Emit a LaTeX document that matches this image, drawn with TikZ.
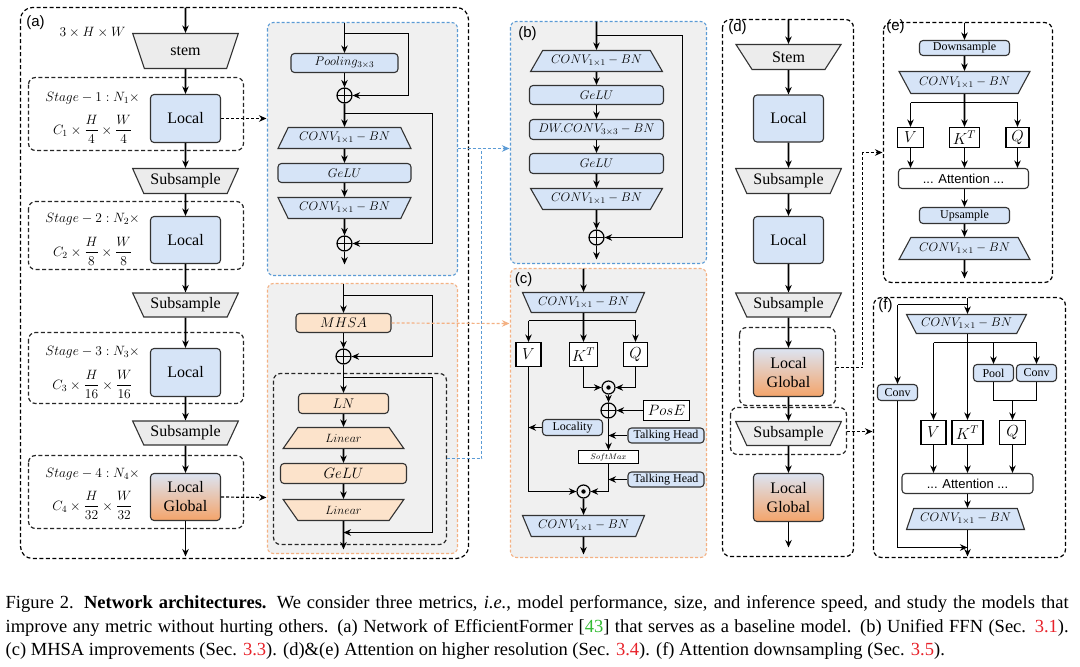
\documentclass[tikz,border=0pt]{standalone}
\usepackage{fix-cm}
\usepackage{amsmath}
\usepackage[no-math]{fontspec}
\setmainfont{Liberation Serif}
\setsansfont{Liberation Sans}
\usetikzlibrary{arrows.meta,shapes.geometric,calc}
\definecolor{lblue}{HTML}{D6E4F7}
\definecolor{lorange}{HTML}{FCE3CB}
\definecolor{lgray}{HTML}{ECECEC}
\definecolor{pgray}{HTML}{F0F0F0}
\definecolor{bd}{HTML}{333333}
\definecolor{dblue}{HTML}{5B9BD5}
\definecolor{dorange}{HTML}{F4B183}
\definecolor{lgtop}{HTML}{DCE4F2}
\definecolor{lgbot}{HTML}{F4A46A}
\definecolor{refred}{HTML}{E8222A}
\definecolor{citegreen}{HTML}{33BB33}
\tikzset{
  dframe/.style={draw=black, dash pattern=on 4pt off 2.5pt, line width=1.2pt, rounded corners=12pt},
  dbox/.style={draw=black!85, dash pattern=on 4pt off 2.5pt, line width=1.2pt, rounded corners=7pt},
  bpanel/.style={draw=dblue, fill=pgray, dash pattern=on 3pt off 2pt, line width=1.1pt, rounded corners=6pt},
  opanel/.style={draw=dorange, fill=pgray, dash pattern=on 3pt off 2pt, line width=1.1pt, rounded corners=6pt},
  box/.style={draw=bd, line width=1.1pt, rounded corners=3.5pt, inner sep=0pt},
  bbox/.style={box, fill=lblue},
  obox/.style={box, fill=lorange},
  wbox/.style={draw=black, line width=1.1pt, fill=white, inner sep=0pt},
  lgbox/.style={box, top color=lgtop, bottom color=lgbot, align=center},
  trap/.style={trapezium, trapezium stretches=true, draw=bd, line width=1.1pt, inner sep=0pt},
  wtop/.style={shape border rotate=180},
  fbig/.style={font=\fontsize{16}{19}\selectfont},
  fmid/.style={font=\fontsize{12.5}{14}\selectfont},
  fsm/.style={font=\fontsize{12}{14}\selectfont},
  fvk/.style={font=\fontsize{16}{18}\selectfont},
  plab/.style={font=\sffamily\fontsize{15}{17}\selectfont, inner sep=0pt},
  stg/.style={font=\fontsize{13.5}{16}\selectfont, inner sep=0pt},
  arr/.style={-{Stealth[length=7.5pt,width=6.5pt]}, line width=1.6pt},
  ln/.style={line width=1.6pt},
  dasharr/.style={-{Stealth[length=7.5pt,width=6.5pt]}, dash pattern=on 3pt off 2pt, line width=1.2pt},
  oplus/.style={circle, draw, line width=1.2pt, minimum size=15pt, inner sep=0pt,
    path picture={\draw[line width=1.2pt] (path picture bounding box.north) -- (path picture bounding box.south)
      (path picture bounding box.west) -- (path picture bounding box.east);}},
  odot/.style={circle, draw, line width=1.2pt, minimum size=13pt, inner sep=0pt,
    path picture={\fill (path picture bounding box.center) circle (2.2pt);}},
  capf/.style={font=\fontsize{18.5}{21}\selectfont, inner sep=0pt, anchor=base west},
}
\begin{document}
\begin{tikzpicture}[x=1pt,y=-1pt]
\useasboundingbox (0,0) rectangle (1080,667);
\fill[white] (0,0) rectangle (1080,667);
\begin{scope}[shift={(0.5,0.5)}]

% ================= panel (a) =================
\draw[dframe] (20,7) rectangle (468,558);
\node[plab] (la) at (35,22) {(a)};
\node[stg] (ain0) at (92,32) {$3\times H\times W$};
\draw[dbox] (28,77) rectangle (243,150);
\draw[dbox] (28,201) rectangle (243,269);
\draw[dbox] (28,332) rectangle (243,403);
\draw[dbox] (28,455) rectangle (243,528);
\node[trap, wtop, fill=lgray, trapezium angle=65, minimum width=106pt, minimum height=35pt, fbig] (stem) at (185,50.5) {stem};
\node[bbox, minimum width=70pt, minimum height=48pt, fbig] (l1) at (185,118) {Local};
\node[trap, wtop, fill=lgray, trapezium angle=57, minimum width=106pt, minimum height=25pt, fbig] (sa1) at (185,180.5) {Subsample};
\node[bbox, minimum width=70pt, minimum height=47pt, fbig] (l2) at (185,239.5) {Local};
\node[trap, wtop, fill=lgray, trapezium angle=57, minimum width=106pt, minimum height=24pt, fbig] (sa2) at (185,304.5) {Subsample};
\node[bbox, minimum width=70pt, minimum height=48pt, fbig] (l3) at (185,372) {Local};
\node[trap, wtop, fill=lgray, trapezium angle=57, minimum width=106pt, minimum height=24pt, fbig] (sa3) at (185,432.5) {Subsample};
\node[lgbox, minimum width=70pt, minimum height=47pt, fbig] (l4) at (185,496.5) {Local\\Global};
\node[stg] (s1a) at (92,98) {$Stage-1:N_1\times$};
\node[stg] (s1b) at (92,129) {$C_1\times\dfrac{H}{4}\times\dfrac{W}{4}$};
\node[stg] (s2a) at (92,219) {$Stage-2:N_2\times$};
\node[stg] (s2b) at (92,251) {$C_2\times\dfrac{H}{8}\times\dfrac{W}{8}$};
\node[stg] (s3a) at (92,352) {$Stage-3:N_3\times$};
\node[stg] (s3b) at (92,384) {$C_3\times\dfrac{H}{16}\times\dfrac{W}{16}$};
\node[stg] (s4a) at (92,474) {$Stage-4:N_4\times$};
\node[stg] (s4b) at (92,505) {$C_4\times\dfrac{H}{32}\times\dfrac{W}{32}$};
\coordinate (ain) at (185,7);
\coordinate (aout) at (185,556);
\draw[arr] (ain) -- (stem.north);
\draw[arr] (stem.south) -- (l1.north);
\draw[arr] (l1.south) -- (sa1.north);
\draw[arr] (sa1.south) -- (l2.north);
\draw[arr] (l2.south) -- (sa2.north);
\draw[arr] (sa2.south) -- (l3.north);
\draw[arr] (l3.south) -- (sa3.north);
\draw[arr] (sa3.south) -- (l4.north);
\draw[arr] (l4.south) -- (aout);

% ================= blue panel (FFN) =================
\draw[bpanel] (267,22) rectangle (457,275);
\node[bbox, minimum width=107pt, minimum height=19pt, fmid] (pool) at (344,62.5) {$Pooling_{3\times3}$};
\node[oplus] (op1) at (344,95) {};
\node[trap, fill=lblue, trapezium angle=54, minimum width=133pt, minimum height=21pt, fmid] (ca1) at (344,137.5) {$CONV_{1\times1}-BN$};
\node[bbox, minimum width=133pt, minimum height=19pt, fmid] (ga) at (344,172.5) {$GeLU$};
\node[trap, wtop, fill=lblue, trapezium angle=54, minimum width=133pt, minimum height=21pt, fmid] (ca2) at (344,207.5) {$CONV_{1\times1}-BN$};
\node[oplus] (op2) at (344,243) {};
\coordinate (bin) at (344,22);
\coordinate (bs1) at (344,33);
\coordinate (bs1r) at (408,33);
\coordinate (bs2) at (344,113);
\coordinate (bs2r) at (432,113);
\coordinate (bout) at (344,264);
\draw[arr] (bin) -- (pool.north);
\draw[arr] (bs1) -- (bs1r) |- (op1.east);
\draw[arr] (pool.south) -- (op1.north);
\draw[arr] (op1.south) -- (ca1.north);
\draw[arr] (bs2) -- (bs2r) |- (op2.east);
\draw[arr] (ca1.south) -- (ga.north);
\draw[arr] (ga.south) -- (ca2.north);
\draw[arr] (ca2.south) -- (op2.north);
\draw[arr] (op2.south) -- (bout);

% ================= orange panel (MHSA block) =================
\draw[opanel] (267,283) rectangle (457,553);
\draw[dbox] (273,373) rectangle (446,544);
\node[obox, minimum width=95pt, minimum height=19pt, font=\fontsize{14}{16}\selectfont] (mh) at (343,322.5) {$MHSA$};
\node[oplus] (op3) at (343,356) {};
\node[obox, minimum width=90pt, minimum height=20pt, font=\fontsize{14}{16}\selectfont] (lnb) at (343,403) {$LN$};
\node[trap, fill=lorange, trapezium angle=54.5, minimum width=121pt, minimum height=21pt, fsm] (lin1) at (343,437.5) {$Linear$};
\node[obox, minimum width=126pt, minimum height=20pt, font=\fontsize{15}{17}\selectfont] (go) at (343,473) {$GeLU$};
\node[trap, wtop, fill=lorange, trapezium angle=54.5, minimum width=121pt, minimum height=21pt, fsm] (lin2) at (343,509.5) {$Linear$};
\coordinate (oin) at (343,283);
\coordinate (os1) at (343,295);
\coordinate (os1r) at (432,295);
\coordinate (os2) at (343,377);
\coordinate (os2r) at (432,377);
\coordinate (os2e) at (343,532);
\coordinate (oout) at (343,549);
\draw[arr] (oin) -- (mh.north);
\draw[arr] (os1) -- (os1r) |- (op3.east);
\draw[arr] (mh.south) -- (op3.north);
\draw[arr] (op3.south) -- (lnb.north);
\draw[arr] (os2) -- (os2r) |- (os2e);
\draw[arr] (lnb.south) -- (lin1.north);
\draw[arr] (lin1.south) -- (go.north);
\draw[arr] (go.south) -- (lin2.north);
\draw[arr] (lin2.south) -- (oout);

% dashed links from (a)
\coordinate (l1t) at (266,118);
\coordinate (l4t) at (266,497);
\draw[dasharr] (l1.east) -- (l1t);
\draw[dasharr] (l4.east) -- (l4t);

% ================= panel (b) =================
\draw[bpanel] (510,21) rectangle (706,263);
\node[plab] (lb) at (527,33) {(b)};
\node[trap, fill=lblue, trapezium angle=48, minimum width=132pt, minimum height=21pt, fmid] (cb1) at (596,60.5) {$CONV_{1\times1}-BN$};
\node[bbox, minimum width=134pt, minimum height=19pt, fmid] (gb1) at (596,94.5) {$GeLU$};
\node[bbox, minimum width=134pt, minimum height=20pt, fmid] (dw) at (596,129) {$DW.CONV_{3\times3}-BN$};
\node[bbox, minimum width=134pt, minimum height=20pt, fmid] (gb2) at (596,163) {$GeLU$};
\node[trap, wtop, fill=lblue, trapezium angle=48, minimum width=132pt, minimum height=21pt, fmid] (cb2) at (596,198.5) {$CONV_{1\times1}-BN$};
\node[oplus] (opb) at (596,237) {};
\coordinate (bbin) at (596,21);
\coordinate (bbs) at (596,35);
\coordinate (bbsr) at (682,35);
\coordinate (bbout) at (596,259);
\draw[arr] (bbin) -- (cb1.north);
\draw[arr] (bbs) -- (bbsr) |- (opb.east);
\draw[arr] (cb1.south) -- (gb1.north);
\draw[arr] (gb1.south) -- (dw.north);
\draw[arr] (dw.south) -- (gb2.north);
\draw[arr] (gb2.south) -- (cb2.north);
\draw[arr] (cb2.south) -- (opb.north);
\draw[arr] (opb.south) -- (bbout);

% ================= panel (c) =================
\draw[opanel] (510,268) rectangle (706,557);
\node[plab] (lc) at (523,279) {(c)};
\node[trap, wtop, fill=lblue, trapezium angle=56, minimum width=122pt, minimum height=20pt, fmid] (cc1) at (583,302) {$CONV_{1\times1}-BN$};
\node[wbox, minimum width=25pt, minimum height=24pt, fvk] (cV) at (528,354) {$V$};
\node[wbox, minimum width=28pt, minimum height=24pt, fvk] (cK) at (583,354) {$K^T$};
\node[wbox, minimum width=24pt, minimum height=24pt, fvk] (cQ) at (635,354) {$Q$};
\node[odot] (od1) at (608,387) {};
\node[oplus] (op4) at (608,410) {};
\node[wbox, minimum width=46pt, minimum height=20pt, font=\fontsize{15}{17}\selectfont] (pe) at (666,410) {$PosE$};
\node[bbox, minimum width=60pt, minimum height=16pt, fsm] (loc) at (572,427) {Locality};
\node[bbox, minimum width=76pt, minimum height=15pt, fsm] (th1) at (665.5,435) {Talking Head};
\node[wbox, line width=0.6pt, minimum width=60pt, minimum height=13pt, font=\fontsize{8}{9}\selectfont] (sm) at (608,456.5) {$SoftMax$};
\node[bbox, minimum width=76pt, minimum height=15pt, fsm] (th2) at (665.5,479) {Talking Head};
\node[odot] (od2) at (583,491) {};
\node[trap, wtop, fill=lblue, trapezium angle=56, minimum width=122pt, minimum height=21pt, fmid] (cc2) at (583,525.5) {$CONV_{1\times1}-BN$};
\coordinate (ccin) at (583,268);
\coordinate (csl) at (528,320);
\coordinate (csr) at (635,320);
\coordinate (cloc) at (528,427);
\coordinate (cth1) at (608,435);
\coordinate (cth2) at (608,479);
\coordinate (cout) at (583,554);
\draw[arr] (ccin) -- (cc1.north);
\draw[arr] (cc1.south) -- (cK.north);
\draw[ln] (csl) -- (csr);
\draw[arr] (csl) -- (cV.north);
\draw[arr] (csr) -- (cQ.north);
\draw[arr] (cK.south) |- (od1.west);
\draw[arr] (cQ.south) |- (od1.east);
\draw[arr] (od1.south) -- (op4.north);
\draw[arr] (pe.west) -- (op4.east);
\draw[arr] (op4.south) -- (sm.north);
\draw[arr] (th1.west) -- (cth1);
\draw[arr] (loc.west) -- (cloc);
\draw[arr] (cV.south) |- (od2.west);
\draw[arr] (sm.south) |- (od2.east);
\draw[arr] (th2.west) -- (cth2);
\draw[arr] (od2.south) -- (cc2.north);
\draw[arr] (cc2.south) -- (cout);

% links to (b) and (c)
\coordinate (ffnR) at (446,458);
\coordinate (bj) at (481,148);
\coordinate (bpe) at (457,148);
\coordinate (btgt) at (509,148);
\coordinate (ctgt) at (509,323);
\draw[dblue, dash pattern=on 3pt off 2pt, line width=1.2pt] (ffnR) -| (bj);
\draw[dblue, -{Stealth[length=7.5pt,width=6.5pt]}, dash pattern=on 3pt off 2pt, line width=1.2pt] (bpe) -- (btgt);
\draw[dorange, -{Stealth[length=7.5pt,width=6.5pt]}, dash pattern=on 3pt off 2pt, line width=1.2pt] (mh.east) -- (ctgt);

% ================= panel (d) =================
\draw[dframe, rounded corners=8pt] (722,19) rectangle (853,556);
\node[plab] (ld) at (737,27) {(d)};
\draw[dbox] (739,327) rectangle (835,405);
\draw[dbox] (730,407) rectangle (846,454);
\node[trap, wtop, fill=lgray, trapezium angle=56, minimum width=105pt, minimum height=25pt, fbig] (dst) at (788,56.5) {Stem};
\node[bbox, minimum width=70pt, minimum height=47pt, fbig] (dl1) at (788,118) {Local};
\node[trap, wtop, fill=lgray, trapezium angle=57, minimum width=106pt, minimum height=25pt, fbig] (ds1) at (788,180.5) {Subsample};
\node[bbox, minimum width=70pt, minimum height=47pt, fbig] (dl2) at (788,239.5) {Local};
\node[trap, wtop, fill=lgray, trapezium angle=57, minimum width=106pt, minimum height=24pt, fbig] (ds2) at (788,304.5) {Subsample};
\node[lgbox, minimum width=70pt, minimum height=48pt, fbig] (dg1) at (788,372) {Local\\Global};
\node[trap, wtop, fill=lgray, trapezium angle=57, minimum width=106pt, minimum height=24pt, fbig] (ds3) at (788,433) {Subsample};
\node[lgbox, minimum width=70pt, minimum height=48pt, fbig] (dg2) at (788,497) {Local\\Global};
\coordinate (din) at (788,19);
\coordinate (dout) at (788,547);
\draw[arr] (din) -- (dst.north);
\draw[arr] (dst.south) -- (dl1.north);
\draw[arr] (dl1.south) -- (ds1.north);
\draw[arr] (ds1.south) -- (dl2.north);
\draw[arr] (dl2.south) -- (ds2.north);
\draw[arr] (ds2.south) -- (dg1.north);
\draw[arr] (dg1.south) -- (ds3.north);
\draw[arr] (ds3.south) -- (dg2.north);
\draw[arr] (dg2.south) -- (dout);
\coordinate (lgbR) at (835,367);
\coordinate (dj) at (862,152);
\coordinate (etgt) at (882,152);
\coordinate (sbR) at (846,431);
\coordinate (ftgt) at (872,431);
\draw[dasharr] (lgbR) -| (dj) -- (etgt);
\draw[dasharr] (sbR) -- (ftgt);

% ================= panel (e) =================
\draw[dframe, rounded corners=8pt] (883,22) rectangle (1052,282);
\node[plab] (le) at (895,26) {(e)};
\node[bbox, minimum width=90pt, minimum height=15pt, fsm] (edn) at (964,47.5) {Downsample};
\node[trap, wtop, fill=lblue, trapezium angle=48.5, minimum width=131pt, minimum height=22pt, fmid] (ce1) at (964,82) {$CONV_{1\times1}-BN$};
\node[wbox, minimum width=26pt, minimum height=20pt, fvk] (eV) at (910,137) {$V$};
\node[wbox, minimum width=30pt, minimum height=20pt, fvk] (eK) at (964,137) {$K^T$};
\node[wbox, minimum width=23pt, minimum height=20pt, fvk] (eQ) at (1017,137) {$Q$};
\node[wbox, rounded corners=3.5pt, draw=bd, minimum width=130pt, minimum height=20pt, font=\sffamily\fontsize{13}{15}\selectfont] (eat) at (963,178) {... Attention ...};
\node[bbox, minimum width=90pt, minimum height=16pt, fsm] (eup) at (964,215) {Upsample};
\node[trap, fill=lblue, trapezium angle=48.5, minimum width=131pt, minimum height=22pt, fmid] (ce2) at (964,248) {$CONV_{1\times1}-BN$};
\coordinate (ein) at (964,22);
\coordinate (esl) at (910,102);
\coordinate (esr) at (1017,102);
\coordinate (eout) at (964,278);
\draw[arr] (ein) -- (edn.north);
\draw[arr] (edn.south) -- (ce1.north);
\draw[arr] (ce1.south) -- (eK.north);
\draw[ln] (esl) -- (esr);
\draw[arr] (esl) -- (eV.north);
\draw[arr] (esr) -- (eQ.north);
\draw[arr] (eV.south) -- (eV.south |- eat.north);
\draw[arr] (eK.south) -- (eK.south |- eat.north);
\draw[arr] (eQ.south) -- (eQ.south |- eat.north);
\draw[arr] (eat.south -| ein) -- (eup.north);
\draw[arr] (eup.south) -- (ce2.north);
\draw[arr] (ce2.south) -- (eout);

% ================= panel (f) =================
\draw[dframe, rounded corners=8pt] (873,297) rectangle (1065,557);
\node[plab] (lf) at (885,305) {(f)};
\node[trap, wtop, fill=lblue, trapezium angle=52, minimum width=120pt, minimum height=19pt, fmid] (cf1) at (966,323.5) {$CONV_{1\times1}-BN$};
\node[bbox, minimum width=40pt, minimum height=16pt, fsm] (fcl) at (897,392) {Conv};
\node[bbox, minimum width=40pt, minimum height=17pt, fsm] (fpo) at (993,372.5) {Pool};
\node[bbox, minimum width=40pt, minimum height=17pt, fsm] (fcr) at (1036,372.5) {Conv};
\node[wbox, minimum width=25pt, minimum height=24pt, fvk] (fV) at (933,432) {$V$};
\node[wbox, minimum width=31pt, minimum height=24pt, fvk] (fK) at (967,432) {$K^T$};
\node[wbox, minimum width=26pt, minimum height=24pt, fvk] (fQ) at (1012,432) {$Q$};
\node[wbox, rounded corners=3.5pt, draw=bd, minimum width=131pt, minimum height=20pt, font=\sffamily\fontsize{13}{15}\selectfont] (fat) at (967,483) {... Attention ...};
\node[trap, fill=lblue, trapezium angle=61, minimum width=118pt, minimum height=21pt, fmid] (cf2) at (965,518.5) {$CONV_{1\times1}-BN$};
\coordinate (fin) at (967,297);
\coordinate (fbr) at (967,304);
\coordinate (fbl) at (897,304);
\coordinate (fsl) at (933,342);
\coordinate (fsr) at (1036,342);
\coordinate (fsp) at (993,342);
\coordinate (fjl) at (993,400);
\coordinate (fjr) at (1036,400);
\coordinate (fjm) at (1012,400);
\coordinate (fbot) at (897,547);
\coordinate (fbe) at (967,547);
\coordinate (fout) at (967,556);
\draw[arr] (fin) -- (cf1.north -| fin);
\draw[ln] (fbr) -- (fbl);
\draw[arr] (fbl) -- (fcl.north);
\draw[arr] (cf1.south -| fin) -- (fK.north);
\draw[ln] (fsl) -- (fsr);
\draw[arr] (fsl) -- (fV.north);
\draw[arr] (fsp) -- (fpo.north);
\draw[arr] (fsr) -- (fcr.north);
\draw[ln] (fpo.south) -- (fjl) -- (fjr) -- (fcr.south);
\draw[arr] (fjm) -- (fQ.north);
\draw[arr] (fV.south) -- (fV.south |- fat.north);
\draw[arr] (fK.south) -- (fK.south |- fat.north);
\draw[arr] (fQ.south) -- (fQ.south |- fat.north);
\draw[arr] (fat.south -| fin) -- (cf2.north -| fin);
\draw[ln] (fcl.south) -- (fbot);
\draw[arr] (fbot) -- (fbe);
\draw[arr] (cf2.south -| fin) -- (fout);

% ================= caption =================
\node[capf] (cap1) at (5,608) {\makebox[1063pt][s]{Figure 2. \textbf{Network architectures.} We consider three metrics, \textit{i.e.}, model performance, size, and inference speed, and study the models that}};
\node[capf] (cap2) at (5,632) {\makebox[1063pt][s]{improve any metric without hurting others. (a) Network of EfficientFormer [\textcolor{citegreen}{43}] that serves as a baseline model. (b) Unified FFN (Sec. \textcolor{refred}{3.1}).}};
\node[capf] (cap3) at (5,655) {(c) MHSA improvements (Sec. \textcolor{refred}{3.3}). (d)\&(e) Attention on higher resolution (Sec. \textcolor{refred}{3.4}). (f) Attention downsampling (Sec. \textcolor{refred}{3.5}).};
\end{scope}
\end{tikzpicture}
\end{document}
